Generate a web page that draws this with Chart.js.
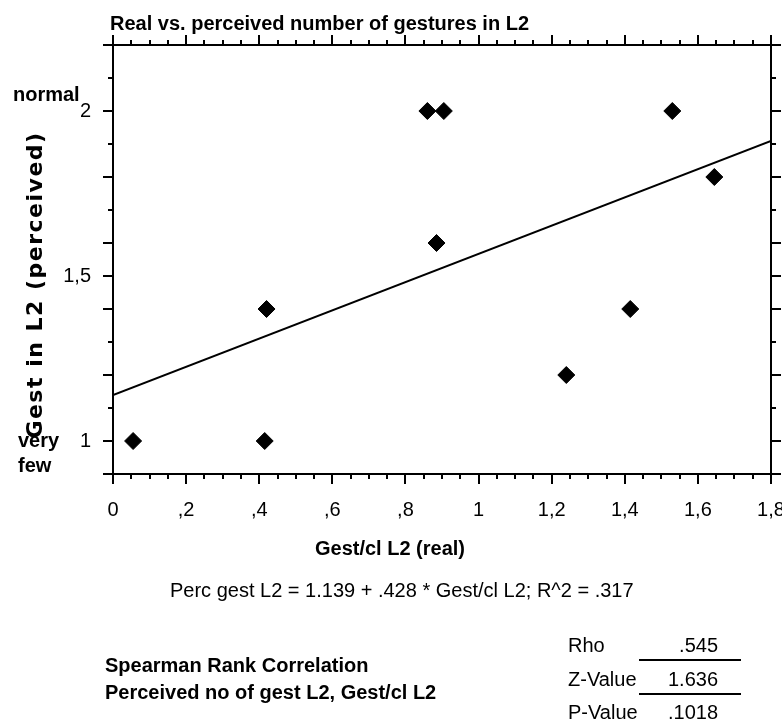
<!DOCTYPE html>
<html>
<head>
<meta charset="utf-8">
<script src="https://cdn.jsdelivr.net/npm/chart.js@4.4.0/dist/chart.umd.min.js"></script>
<style>
  html, body { margin: 0; padding: 0; background: #fff; }
  canvas { display: block; }
</style>
</head>
<body>
<canvas id="gestChart" width="782" height="720"></canvas>
<script>
// data
const realGest = [0.055, 0.415, 0.42, 0.86, 0.905, 0.885, 1.24, 1.415, 1.53, 1.645];
const perceivedGest = [1, 1, 1.4, 2, 2, 1.6, 1.2, 1.4, 2, 1.8];
const fitX = [0, 1.8];
const fitY = [1.139, 1.909];

const xTickValues = [0, 0.2, 0.4, 0.6, 0.8, 1, 1.2, 1.4, 1.6, 1.8];
const xTickLabels = ['0', ',2', ',4', ',6', ',8', '1', '1,2', '1,4', '1,6', '1,8'];
const yTickValues = [1, 1.5, 2];
const yTickLabels = ['1', '1,5', '2'];

const statNames = ['Rho', 'Z-Value', 'P-Value'];
const statValues = ['.545', '1.636', '.1018'];

const SANS = "'Liberation Sans', Arial, sans-serif";

const tickMarks = {
  id: 'tickMarks',
  afterDraw(chart) {
    const { ctx, chartArea: a, scales: { x, y } } = chart;
    ctx.save();
    ctx.strokeStyle = '#000';
    ctx.lineWidth = 2;
    ctx.beginPath();
    for (let i = 0; i <= 36; i++) {
      const px = Math.round(x.getPixelForValue(i * 0.05));
      const len = i % 4 === 0 ? 10 : 5;
      ctx.moveTo(px, a.bottom); ctx.lineTo(px, a.bottom + len);
      ctx.moveTo(px, a.top); ctx.lineTo(px, a.top - len);
    }
    for (let i = 9; i <= 22; i++) {
      const py = Math.round(y.getPixelForValue(i / 10));
      const len = (i % 2 === 0 || i === 9 || i === 15) ? 10 : 5;
      ctx.moveTo(a.left, py); ctx.lineTo(a.left - len, py);
      ctx.moveTo(a.right, py); ctx.lineTo(a.right + len, py);
    }
    ctx.stroke();
    ctx.restore();
  }
};

const extraText = {
  id: 'extraText',
  afterDraw(chart) {
    const { ctx } = chart;
    ctx.save();
    ctx.fillStyle = '#000';
    ctx.textBaseline = 'alphabetic';
    ctx.textAlign = 'left';

    ctx.font = 'bold 20px ' + SANS;
    ctx.fillText('Real vs. perceived number of gestures in L2', 110, 30);
    ctx.fillText('normal', 13, 101);
    ctx.fillText('very', 18, 447);
    ctx.fillText('few', 18, 472);

    ctx.textAlign = 'center';
    ctx.fillText('Gest/cl L2 (real)', 390, 555);

    ctx.textAlign = 'left';
    ctx.font = '20px ' + SANS;
    ctx.fillText('Perc gest L2 = 1.139 + .428 * Gest/cl L2; R^2 = .317', 170, 597);

    ctx.font = 'bold 20px ' + SANS;
    ctx.fillText('Spearman Rank Correlation', 105, 672);
    ctx.fillText('Perceived no of gest L2, Gest/cl L2', 105, 699);

    ctx.font = '20px ' + SANS;
    const rowY = [652, 686, 719];
    statNames.forEach((name, i) => {
      ctx.textAlign = 'left';
      ctx.fillText(name, 568, rowY[i]);
      ctx.textAlign = 'right';
      ctx.fillText(statValues[i], 718, rowY[i]);
    });
    ctx.strokeStyle = '#000';
    ctx.lineWidth = 2;
    ctx.beginPath();
    ctx.moveTo(639, 660); ctx.lineTo(741, 660);
    ctx.moveTo(639, 694); ctx.lineTo(741, 694);
    ctx.stroke();

    // rotated y-axis title
    ctx.translate(42, 285);
    ctx.rotate(-Math.PI / 2);
    ctx.textAlign = 'center';
    ctx.textBaseline = 'alphabetic';
    ctx.font = "bold 22px 'DejaVu Sans', sans-serif";
    if ('letterSpacing' in ctx) ctx.letterSpacing = '1.5px';
    ctx.fillText('Gest in L2 (perceived)', 0, 0);
    ctx.restore();
  }
};

const ctx = document.getElementById('gestChart').getContext('2d');

const chart = new Chart(ctx, {
  type: 'scatter',
  data: {
    datasets: [{
      label: 'Gest',
      data: realGest.map((v, i) => ({ x: v, y: perceivedGest[i] })),
      pointStyle: 'rectRot',
      pointRadius: 8.5,
      backgroundColor: '#000',
      borderColor: '#000',
      borderWidth: 1,
      order: 1
    }, {
      label: 'Fit',
      data: fitX.map((v, i) => ({ x: v, y: fitY[i] })),
      showLine: true,
      pointRadius: 0,
      borderColor: '#000',
      borderWidth: 2,
      fill: false,
      order: 2
    }]
  },
  options: {
    responsive: false,
    animation: false,
    layout: { padding: 0 },
    plugins: {
      legend: { display: false },
      tooltip: { enabled: false },
      title: { display: false }
    },
    scales: {
      x: {
        type: 'linear',
        position: 'bottom',
        min: 0,
        max: 1.8,
        afterBuildTicks: s => { s.ticks = xTickValues.map(v => ({ value: v })); },
        afterFit: s => { s.height = 246; s.paddingLeft = 0; s.paddingRight = 0; },
        grid: { drawOnChartArea: false, drawTicks: false },
        border: { color: '#000', width: 2 },
        ticks: {
          color: '#000',
          padding: 24,
          maxRotation: 0,
          autoSkip: false,
          font: { family: SANS, size: 20 },
          callback: (v, i) => xTickLabels[i]
        }
      },
      x2: {
        type: 'linear',
        position: 'top',
        min: 0,
        max: 1.8,
        afterFit: s => { s.height = 45; s.paddingLeft = 0; s.paddingRight = 0; },
        grid: { drawOnChartArea: false, drawTicks: false },
        border: { color: '#000', width: 2 },
        ticks: { display: false }
      },
      y: {
        type: 'linear',
        position: 'left',
        min: 0.9,
        max: 2.2,
        afterBuildTicks: s => { s.ticks = yTickValues.map(v => ({ value: v })); },
        afterFit: s => { s.width = 113; s.paddingTop = 0; s.paddingBottom = 0; },
        grid: { drawOnChartArea: false, drawTicks: false },
        border: { color: '#000', width: 2 },
        ticks: {
          color: '#000',
          padding: 22,
          autoSkip: false,
          font: { family: SANS, size: 20 },
          callback: (v, i) => yTickLabels[i]
        }
      },
      y2: {
        type: 'linear',
        position: 'right',
        min: 0.9,
        max: 2.2,
        afterFit: s => { s.width = 11; s.paddingTop = 0; s.paddingBottom = 0; },
        grid: { drawOnChartArea: false, drawTicks: false },
        border: { color: '#000', width: 2 },
        ticks: { display: false }
      }
    }
  },
  plugins: [tickMarks, extraText]
});
</script>
</body>
</html>
